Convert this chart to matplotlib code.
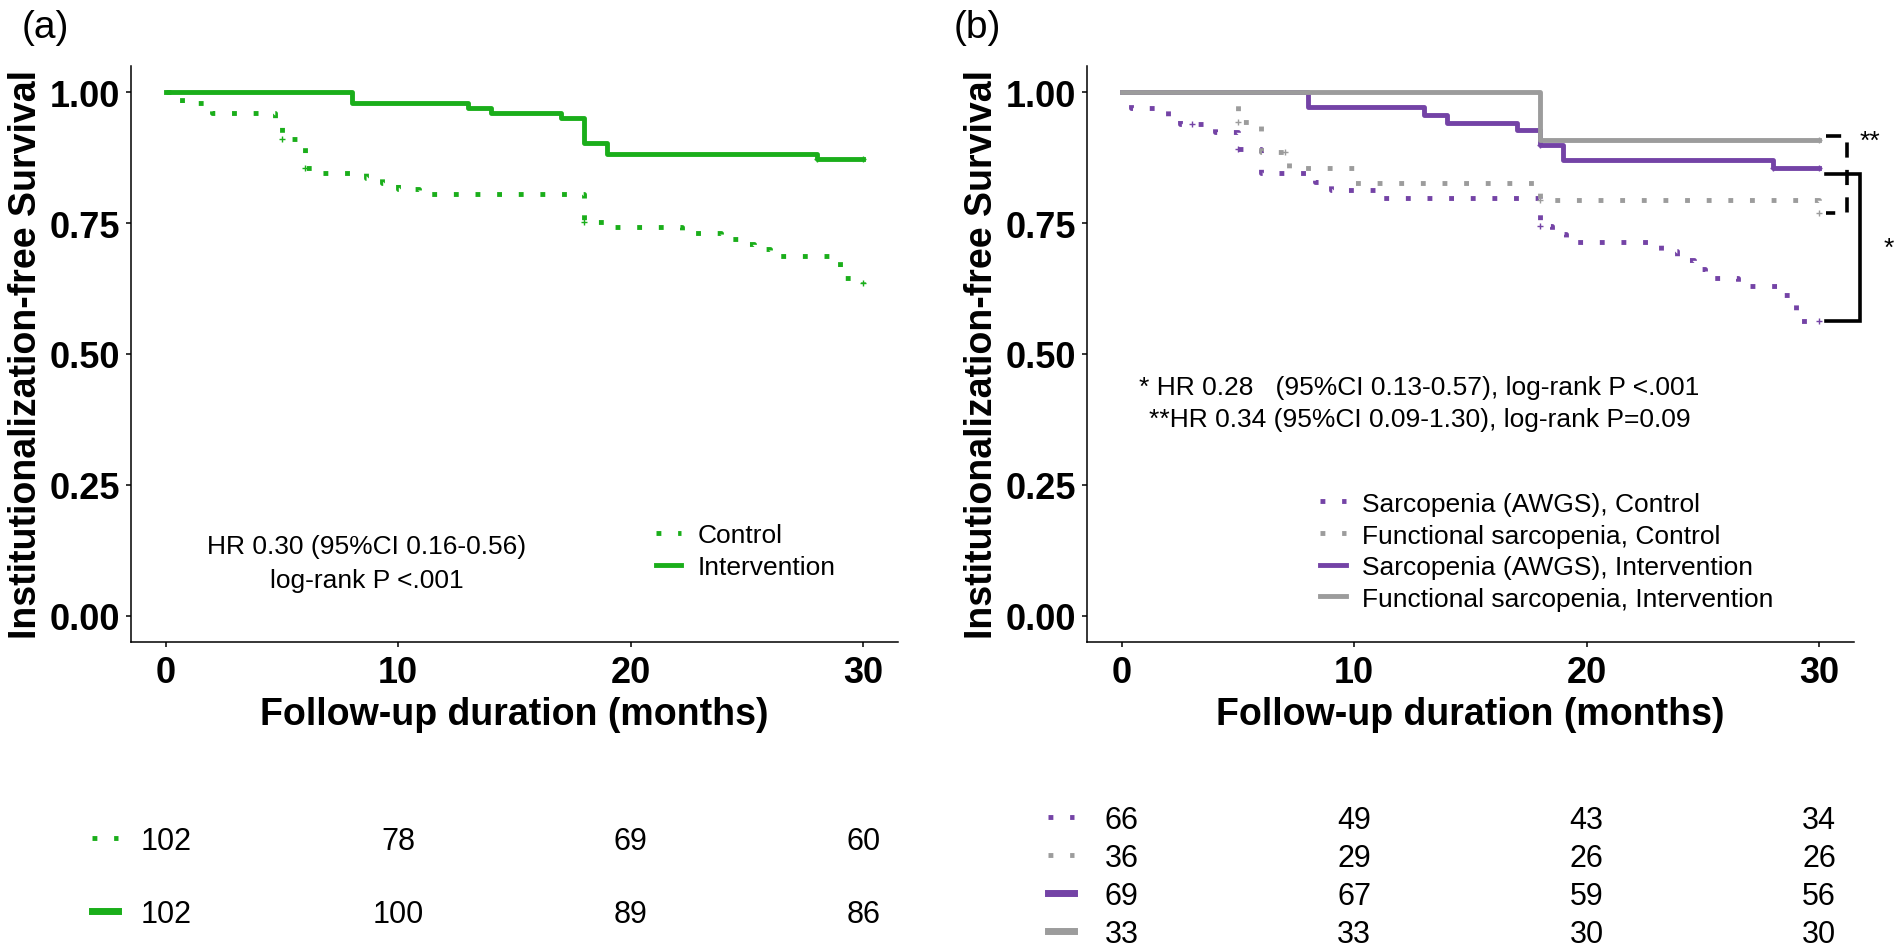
import numpy as np
import matplotlib
matplotlib.use('Agg')
import matplotlib.pyplot as plt

plt.rcParams['font.family'] = ['Liberation Sans', 'DejaVu Sans']

W, H = 1902, 953

# ---------------- data ----------------
months = [0, 10, 20, 30]

# (a) whole sample
a_ctrl_t = [0, 0.4, 0.7, 2.0, 4.7, 5.0, 6.0, 6.5, 8.6, 9.3, 10.0, 10.9, 18.0, 19.3,
            22.2, 23.9, 24.6, 25.3, 26.0, 28.7, 29.0, 30.0]
a_ctrl_s = [1.0, 0.990, 0.980, 0.961, 0.951, 0.911, 0.856, 0.846, 0.836, 0.826, 0.816,
            0.805, 0.752, 0.742, 0.731, 0.720, 0.710, 0.700, 0.688, 0.677, 0.645, 0.635]
a_ctrl_cens = [5.0, 6.0, 18.0, 30.0]
a_int_t = [0, 8, 13, 14, 17, 18, 19, 28, 30]
a_int_s = [1.0, 0.980, 0.970, 0.960, 0.951, 0.902, 0.882, 0.872, 0.872]
a_int_cens = [28.0, 30.0]
a_labels = ['Control', 'Intervention']
a_risk = [[102, 78, 69, 60],
          [102, 100, 89, 86]]

# (b) by sarcopenia definition
b_sc_t = [0, 0.2, 0.4, 2.0, 2.5, 4.0, 5.0, 6.0, 8.3, 9.0, 11.2, 18.0, 18.5, 19.1,
          23.2, 23.9, 24.6, 25.1, 26.5, 28.2, 29.0, 30.0]
b_sc_s = [1.0, 0.985, 0.970, 0.955, 0.939, 0.924, 0.892, 0.845, 0.829, 0.813, 0.797,
          0.745, 0.729, 0.714, 0.697, 0.679, 0.663, 0.646, 0.629, 0.613, 0.563, 0.563]
b_sc_cens = [3.0, 5.0, 18.0, 30.0]
b_fc_t = [0, 5.0, 6.0, 7.2, 10.0, 18.0, 30.0]
b_fc_s = [1.0, 0.944, 0.886, 0.855, 0.826, 0.794, 0.770]
b_fc_cens = [5.0, 7.0, 18.0, 30.0]
b_si_t = [0, 8, 13, 14, 17, 18, 19, 28, 30]
b_si_s = [1.0, 0.971, 0.957, 0.942, 0.928, 0.899, 0.870, 0.855, 0.855]
b_si_cens = [18.0, 28.0, 30.0]
b_fi_t = [0, 18, 30]
b_fi_s = [1.0, 0.909, 0.909]
b_fi_cens = [30.0]
b_labels = ['Sarcopenia (AWGS), Control', 'Functional sarcopenia, Control',
            'Sarcopenia (AWGS), Intervention', 'Functional sarcopenia, Intervention']
b_risk = [[66, 49, 43, 34],
          [36, 29, 26, 26],
          [69, 67, 59, 56],
          [33, 33, 30, 30]]

GREEN = '#1AAE1A'
PURPLE = '#7443A6'
GRAY = '#9C9C9C'
LW = 3.5
DOTS = (1, 3.45)


def km(ax, t, s, cens, color, dotted):
    kw = dict(color=color, lw=LW)
    if dotted:
        kw['dashes'] = DOTS
    ax.step(t, s, where='post', **kw)
    idx = np.searchsorted(t, cens, side='right') - 1
    ax.plot(cens, np.array(s)[idx], '+', color=color, ms=4, mew=1)


def key(ax, x, y, color, dotted, lw=LW, **kw):
    extra = dict(dashes=DOTS) if dotted else {}
    ax.plot(x, [y, y], color=color, lw=lw, clip_on=False, **extra, **kw)


def style_axes(ax):
    ax.set_xlim(-1.5, 31.5)
    ax.set_ylim(-0.05, 1.05)
    ax.set_xticks(months)
    ax.set_yticks([0, 0.25, 0.5, 0.75, 1.0], ['0.00', '0.25', '0.50', '0.75', '1.00'])
    for side in ['top', 'right']:
        ax.spines[side].set_visible(False)
    for side in ['left', 'bottom']:
        ax.spines[side].set_linewidth(1.1)
    ax.tick_params(length=3.6, width=1.1, labelsize=26)
    ax.tick_params(axis='x', pad=6)
    ax.tick_params(axis='y', pad=4.3)
    for lab in ax.get_xticklabels() + ax.get_yticklabels():
        lab.set_fontweight('bold')
    ax.set_xlabel('Follow-up duration (months)', fontsize=27, fontweight='bold')
    ax.set_ylabel('Institutionalization-free Survival', fontsize=27, fontweight='bold')
    ax.xaxis.set_label_coords(0.5, -0.0937)
    ax.yaxis.set_label_coords(-0.1137, 0.5)


def risk_table(rect, rows, styles, fs):
    tab = fig.add_axes(rect)
    tab.set_xlim(-1.5, 31.5)
    tab.set_ylim(len(rows) + 0.5, 0.5)
    tab.axis('off')
    for i, (row, (color, dotted)) in enumerate(zip(rows, styles), start=1):
        for m, n in zip(months, row):
            tab.text(m, i, str(n), ha='center', va='center_baseline', fontsize=fs)
        key(tab, [-3.18, -2.05], i, color, dotted, lw=LW if dotted else 5)
    return tab


fig = plt.figure(figsize=(W / 100, H / 100), dpi=100)

# ---------------- panel (a) ----------------
ax_a = fig.add_axes([131 / W, 1 - 643 / H, 767 / W, 576 / H])
km(ax_a, a_ctrl_t, a_ctrl_s, a_ctrl_cens, GREEN, True)
km(ax_a, a_int_t, a_int_s, a_int_cens, GREEN, False)
style_axes(ax_a)
ax_a.text(8.63, 0.138, 'HR 0.30 (95%CI 0.16-0.56)', ha='center', va='center_baseline', fontsize=19)
ax_a.text(8.63, 0.074, 'log-rank P <.001', ha='center', va='center_baseline', fontsize=19)
for lab, y, dotted in zip(a_labels, [0.159, 0.098], [True, False]):
    key(ax_a, [21.1, 22.18], y, GREEN, dotted)
    ax_a.text(22.9, y, lab, ha='left', va='center_baseline', fontsize=19)

# ---------------- panel (b) ----------------
ax_b = fig.add_axes([1087 / W, 1 - 643 / H, 767 / W, 576 / H])
km(ax_b, b_sc_t, b_sc_s, b_sc_cens, PURPLE, True)
km(ax_b, b_fc_t, b_fc_s, b_fc_cens, GRAY, True)
km(ax_b, b_si_t, b_si_s, b_si_cens, PURPLE, False)
km(ax_b, b_fi_t, b_fi_s, b_fi_cens, GRAY, False)
style_axes(ax_b)
ax_b.text(12.8, 0.442, '* HR 0.28   (95%CI 0.13-0.57), log-rank P <.001',
          ha='center', va='center_baseline', fontsize=19)
ax_b.text(12.8, 0.380, '**HR 0.34 (95%CI 0.09-1.30), log-rank P=0.09',
          ha='center', va='center_baseline', fontsize=19)
b_styles = [(PURPLE, True), (GRAY, True), (PURPLE, False), (GRAY, False)]
for lab, y, (c, dotted) in zip(b_labels, [0.219, 0.158, 0.098, 0.037], b_styles):
    key(ax_b, [8.51, 9.66], y, c, dotted)
    ax_b.text(10.33, y, lab, ha='left', va='center_baseline', fontsize=19)

# significance brackets
ax_b.plot([30.3, 31.2, 31.2, 30.3], [0.916, 0.916, 0.769, 0.769], color='black',
          lw=2.6, dashes=(4.2, 3.4), clip_on=False)
ax_b.plot([30.3, 31.75, 31.75, 30.3], [0.844, 0.844, 0.563, 0.563], color='black',
          lw=2.6, clip_on=False, solid_joinstyle='miter')
ax_b.text(32.2, 0.912, '**', ha='center', va='center_baseline', fontsize=19, clip_on=False)
ax_b.text(33.0, 0.708, '*', ha='center', va='center_baseline', fontsize=19, clip_on=False)

# ---------------- number-at-risk tables ----------------
risk_table([131 / W, 1 - 948 / H, 767 / W, 146 / H], a_risk,
           [(GREEN, True), (GREEN, False)], 22)
risk_table([1087 / W, 1 - 951 / H, 767 / W, 152 / H], b_risk, b_styles, 22)

# panel tags
fig.text(22 / W, 1 - 10 / H, '(a)', fontsize=28, va='top', ha='left')
fig.text(954 / W, 1 - 10 / H, '(b)', fontsize=28, va='top', ha='left')

fig.savefig('out.png', dpi=100)
